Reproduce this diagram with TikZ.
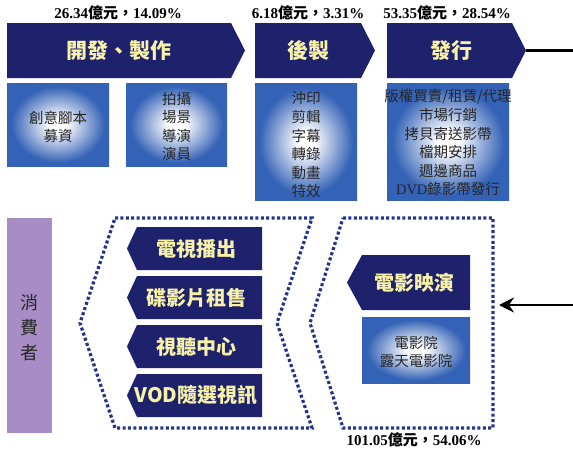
\documentclass[tikz,border=0pt]{standalone}
\usepackage{fontspec}
\setmainfont{Liberation Serif}
\newfontfamily\cjk{Noto Sans CJK TC}
\usetikzlibrary{arrows.meta}

\definecolor{navy}{RGB}{30,33,108}
\definecolor{boxblue}{RGB}{52,98,182}
\definecolor{titleyellow}{RGB}{248,242,168}
\definecolor{dotblue}{RGB}{34,52,140}
\definecolor{lilac}{RGB}{168,140,198}

\pgfdeclareradialshading{subglow}{\pgfpoint{0bp}{0bp}}{color(0bp)=(white); color(4bp)=(white); color(23bp)=(boxblue); color(50bp)=(boxblue)}

\tikzset{
  navyarrow/.style={fill=navy},
  subbox/.style={shading=subglow},
  hexline/.style={draw=dotblue, line width=3.2pt, dash pattern=on 3pt off 2.4pt},
  titletext/.style={text=titleyellow, font=\cjk\bfseries\fontsize{21}{24}\selectfont},
  bottext/.style={text=titleyellow, font=\cjk\bfseries\fontsize{20}{24}\selectfont},
  subtext/.style={text=black!85, align=center, font=\cjk\fontsize{14.5}{18.6}\selectfont},
  sumtext/.style={font=\bfseries\fontsize{15}{18}\selectfont},
  conn/.style={line width=2.6pt},
}

\begin{document}
\begin{tikzpicture}[x=1pt,y=-1pt]
\useasboundingbox (0,0) rectangle (573,448);

\fill[navyarrow] (7,23) -- (231,23) -- (245,50.5) -- (231,78) -- (7,78) -- cycle;
\fill[navyarrow] (255,23) -- (361,23) -- (375,50.5) -- (361,78) -- (255,78) -- cycle;
\fill[navyarrow] (387,23) -- (512,23) -- (526,50.5) -- (512,78) -- (387,78) -- cycle;

\node[titletext] (kaifa) at (119,50.5) {開發、製作};
\node[titletext] (houzhi) at (308,50.5) {後製};
\node[titletext] (faxing) at (451,50.5) {發行};

\node[sumtext] (sumkaifa) at (118,13) {26.34{\cjk 億元，}14.09\%};
\node[sumtext] (sumhouzhi) at (308,13) {6.18{\cjk 億元，}3.31\%};
\node[sumtext] (sumfaxing) at (447,13) {53.35{\cjk 億元，}28.54\%};
\node[sumtext] (sumyingyan) at (414,440) {101.05{\cjk 億元，}54.06\%};

\shade[subbox] (7,83) rectangle (109,166);
\shade[subbox] (126,83) rectangle (227,166);
\shade[subbox] (255,83) rectangle (357,200);
\shade[subbox] (387,83) rectangle (509,200);

\node[subtext] (ideas) at (58,127) {創意腳本\\募資};
\node[subtext] (shooting) at (176.5,126.5) {拍攝\\場景\\導演\\演員};
\node[subtext] (editing) at (306,145) {沖印\\剪輯\\字幕\\轉錄\\動畫\\特效};
\node[subtext] (selling) at (448,143) {版權買賣/租賃/代理\\市場行銷\\拷貝寄送影帶\\檔期安排\\週邊商品\\{\rmfamily DVD}錄影帶發行};

\fill[lilac] (7,218) rectangle (52,433);
\node[text=black!85, align=center, font=\cjk\fontsize{18}{25}\selectfont] (xiaofei) at (29.5,328) {消\\費\\者};

\draw[hexline] (115,218) -- (312,218) -- (277,323) -- (312,428) -- (115,428) -- (80,323) -- cycle;
\draw[hexline] (343,218) -- (493,218) -- (493,428) -- (343,428) -- (310,323) -- cycle;

\foreach \ytop/\txt [count=\i] in {227/電視播出, 276/碟影片租售, 325/視聽中心, 374/VOD隨選視訊}{
  \fill[navyarrow] (137,\ytop) -- (262,\ytop) -- (262,\ytop+43) -- (137,\ytop+43) -- (127,\ytop+21.5) -- cycle;
  \node[bottext] (outlet\i) at (196,\ytop+21.5) {\txt};
}

\fill[navyarrow] (362,255) -- (470,255) -- (470,310) -- (362,310) -- (347,282.5) -- cycle;
\node[bottext] (yingyan) at (414,282.5) {電影映演};
\shade[subbox] (362,317) rectangle (470,383);
\node[subtext] (theater) at (416,352) {電影院\\露天電影院};

\coordinate (faxingtip) at (526,50.5);
\coordinate (edgetop) at (573,50.5);
\coordinate (edgemid) at (573,305);
\coordinate (hexin) at (499,305);
\draw[conn] (faxingtip) -- (edgetop);
\draw[conn,-{Stealth[length=15pt,width=15pt,inset=5pt]}] (edgemid) -- (hexin);

\end{tikzpicture}
\end{document}
